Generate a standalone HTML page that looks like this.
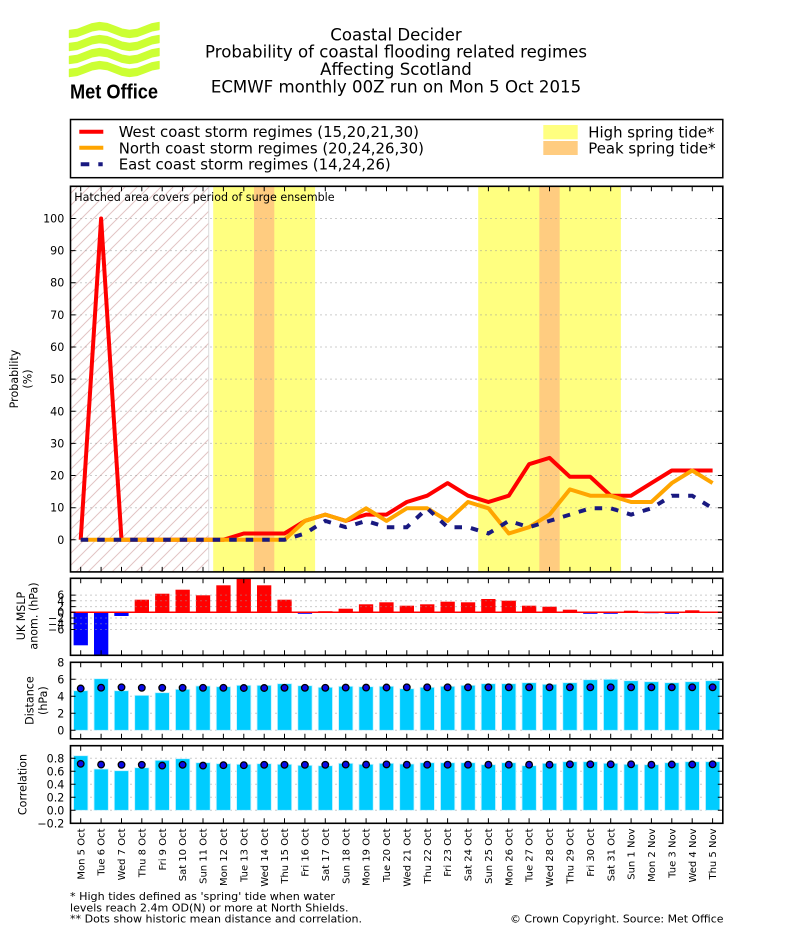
<!DOCTYPE html>
<html><head><meta charset="utf-8"><style>html,body{margin:0;padding:0;background:#fff;}svg{display:block}</style></head>
<body>
<svg width="786" height="937" viewBox="0 0 786 937" xmlns="http://www.w3.org/2000/svg" font-family="'DejaVu Sans','Liberation Sans',sans-serif">
<defs>
<pattern id="hatch" patternUnits="userSpaceOnUse" width="12" height="12" x="0" y="0">
<path d="M-1,1L1,-1M0,12L12,0M11,13L13,11" stroke="#e2c4c4" stroke-width="1"/>
</pattern>
<clipPath id="cMain"><rect x="70.5" y="186.3" width="652.3" height="385.6"/></clipPath>
<clipPath id="cMslp"><rect x="70.5" y="578.3" width="652.3" height="77"/></clipPath>
<path id="tkd" d="M80.7,0v5M101.1,0v5M121.5,0v5M141.8,0v5M162.2,0v5M182.6,0v5M203,0v5M223.4,0v5M243.8,0v5M264.2,0v5M284.5,0v5M304.9,0v5M325.3,0v5M345.7,0v5M366.1,0v5M386.5,0v5M406.8,0v5M427.2,0v5M447.6,0v5M468,0v5M488.4,0v5M508.8,0v5M529.1,0v5M549.5,0v5M569.9,0v5M590.3,0v5M610.7,0v5M631.1,0v5M651.4,0v5M671.8,0v5M692.2,0v5M712.6,0v5" stroke="#000" stroke-width="1"/>
<path id="tku" d="M80.7,0v-5M101.1,0v-5M121.5,0v-5M141.8,0v-5M162.2,0v-5M182.6,0v-5M203,0v-5M223.4,0v-5M243.8,0v-5M264.2,0v-5M284.5,0v-5M304.9,0v-5M325.3,0v-5M345.7,0v-5M366.1,0v-5M386.5,0v-5M406.8,0v-5M427.2,0v-5M447.6,0v-5M468,0v-5M488.4,0v-5M508.8,0v-5M529.1,0v-5M549.5,0v-5M569.9,0v-5M590.3,0v-5M610.7,0v-5M631.1,0v-5M651.4,0v-5M671.8,0v-5M692.2,0v-5M712.6,0v-5" stroke="#000" stroke-width="1"/>
<polygon id="wave" points="69.5,0.49 77,-0.53 84.5,-3.29 92,-6.18 99.5,-7.49 107,-6.47 114.5,-3.71 122,-0.82 129.5,0.49 137,-0.53 144.5,-3.29 152,-6.18 159,-7.48 159,-0.48 152,0.82 144.5,3.71 137,6.47 129.5,7.49 122,6.18 114.5,3.29 107,0.53 99.5,-0.49 92,0.82 84.5,3.71 77,6.47 69.5,7.49" fill="#ccff33" stroke="#ccff33" stroke-width="1.4" stroke-linejoin="round"/>
</defs>
<rect width="786" height="937" fill="#fff"/>

<!-- Logo -->
<use href="#wave" transform="translate(0,30)"/>
<use href="#wave" transform="translate(0,43)"/>
<use href="#wave" transform="translate(0,56)"/>
<use href="#wave" transform="translate(0,69)"/>
<text x="70" y="98.5" font-family="'Liberation Sans',sans-serif" font-weight="bold" font-size="20" textLength="88" lengthAdjust="spacingAndGlyphs" fill="#000">Met Office</text>

<!-- Title -->
<g font-size="16.6" text-anchor="middle" fill="#000">
<text x="396" y="40.3">Coastal Decider</text>
<text x="396" y="57.7">Probability of coastal flooding related regimes</text>
<text x="396" y="75.1">Affecting Scotland</text>
<text x="396" y="92.5">ECMWF monthly 00Z run on Mon 5 Oct 2015</text>
</g>

<!-- Legend -->
<rect x="70.5" y="119.5" width="652.3" height="58.2" fill="#fff" stroke="#000" stroke-width="1.5"/>
<line x1="79.3" y1="131.7" x2="103.3" y2="131.7" stroke="#ff0000" stroke-width="4"/>
<line x1="79.3" y1="147.7" x2="103.3" y2="147.7" stroke="#ffa500" stroke-width="4"/>
<line x1="80.7" y1="164.3" x2="102.7" y2="164.3" stroke="#191980" stroke-width="4" stroke-dasharray="8.6 9"/>
<g font-size="14.9" fill="#000">
<text x="118.7" y="137">West coast storm regimes (15,20,21,30)</text>
<text x="118.7" y="153.3">North coast storm regimes (20,24,26,30)</text>
<text x="118.7" y="169.5">East coast storm regimes (14,24,26)</text>
<text x="588.3" y="137.5">High spring tide*</text>
<text x="588.3" y="153.5">Peak spring tide*</text>
</g>
<rect x="543.3" y="125" width="34.4" height="14.3" fill="#ffff80"/>
<rect x="543.3" y="141" width="34.4" height="14" fill="#ffcc80"/>

<!-- Main panel -->
<rect x="70.5" y="186.3" width="138.2" height="385.6" fill="url(#hatch)"/>
<line x1="208.7" y1="186.3" x2="208.7" y2="571.9" stroke="#dcdcdc" stroke-width="1"/>
<rect x="213.2" y="186.3" width="101.9" height="385.6" fill="#ffff80"/>
<rect x="254" y="186.3" width="20.3" height="385.6" fill="#ffcc80"/>
<rect x="478.2" y="186.3" width="142.7" height="385.6" fill="#ffff80"/>
<rect x="539.3" y="186.3" width="20.4" height="385.6" fill="#ffcc80"/>
<path d="M70.5,539.8H722.8M70.5,507.7H722.8M70.5,475.5H722.8M70.5,443.4H722.8M70.5,411.3H722.8M70.5,379.1H722.8M70.5,347H722.8M70.5,314.9H722.8M70.5,282.7H722.8M70.5,250.6H722.8M70.5,218.5H722.8" stroke="#999" stroke-width="1" stroke-dasharray="1 4"/>
<text x="74.3" y="201" font-size="11.1" fill="#000">Hatched area covers period of surge ensemble</text>
<g clip-path="url(#cMain)" fill="none" stroke-linejoin="round">
<polyline stroke="#ff0000" stroke-width="4" points="80.7,539.8 101.1,218.5 121.5,539.8 141.8,539.8 162.2,539.8 182.6,539.8 203,539.8 223.4,539.8 243.8,533.5 264.2,533.5 284.5,533.5 304.9,520.9 325.3,514.6 345.7,520.9 366.1,514.6 386.5,514.6 406.8,502 427.2,495.7 447.6,483.1 468,495.7 488.4,502 508.8,495.7 529.1,464.2 549.5,457.9 569.9,476.8 590.3,476.8 610.7,495.7 631.1,495.7 651.4,483.1 671.8,470.5 692.2,470.5 712.6,470.5"/>
<polyline stroke="#ffa500" stroke-width="4" points="80.7,539.8 101.1,539.8 121.5,539.8 141.8,539.8 162.2,539.8 182.6,539.8 203,539.8 223.4,539.8 243.8,539.8 264.2,539.8 284.5,539.8 304.9,520.9 325.3,514.6 345.7,520.9 366.1,508.3 386.5,520.9 406.8,508.3 427.2,508.3 447.6,520.9 468,502 488.4,508.3 508.8,533.5 529.1,527.2 549.5,514.6 569.9,489.4 590.3,495.7 610.7,495.7 631.1,502 651.4,502 671.8,483.1 692.2,470.5 712.6,483.1"/>
<polyline stroke="#191980" stroke-width="4" stroke-dasharray="7.5 9" stroke-linejoin="miter" points="80.7,539.8 101.1,539.8 121.5,539.8 141.8,539.8 162.2,539.8 182.6,539.8 203,539.8 223.4,539.8 243.8,539.8 264.2,539.8 284.5,539.8 304.9,533.5 325.3,520.9 345.7,527.2 366.1,520.9 386.5,527.2 406.8,527.2 427.2,508.3 447.6,527.2 468,527.2 488.4,533.5 508.8,520.9 529.1,527.2 549.5,520.9 569.9,514.6 590.3,508.3 610.7,508.3 631.1,514.6 651.4,508.3 671.8,495.7 692.2,495.7 712.6,508.3"/>
</g>
<use href="#tkd" y="186.3"/>
<use href="#tku" y="571.9"/>
<path d="M70.5,539.8h5M70.5,507.7h5M70.5,475.5h5M70.5,443.4h5M70.5,411.3h5M70.5,379.1h5M70.5,347h5M70.5,314.9h5M70.5,282.7h5M70.5,250.6h5M70.5,218.5h5M722.8,539.8h-5M722.8,507.7h-5M722.8,475.5h-5M722.8,443.4h-5M722.8,411.3h-5M722.8,379.1h-5M722.8,347h-5M722.8,314.9h-5M722.8,282.7h-5M722.8,250.6h-5M722.8,218.5h-5" stroke="#000" stroke-width="1"/>
<rect x="70.5" y="186.3" width="652.3" height="385.6" fill="none" stroke="#000" stroke-width="1.6"/>
<g font-size="11.1" text-anchor="end" fill="#000">
<text x="64.3" y="543.8">0</text><text x="64.3" y="511.7">10</text><text x="64.3" y="479.5">20</text><text x="64.3" y="447.4">30</text><text x="64.3" y="415.3">40</text><text x="64.3" y="383.1">50</text><text x="64.3" y="351">60</text><text x="64.3" y="318.9">70</text><text x="64.3" y="286.7">80</text><text x="64.3" y="254.6">90</text><text x="64.3" y="222.5">100</text>
</g>
<g font-size="11.1" text-anchor="middle" fill="#000">
<text transform="translate(17.8,379) rotate(-90)">Probability</text>
<text transform="translate(31.5,379) rotate(-90)">(%)</text>
<text transform="translate(25,616) rotate(-90)">UK MSLP</text>
<text transform="translate(37.5,616) rotate(-90)">anom. (hPa)</text>
<text transform="translate(33.5,700.6) rotate(-90)">Distance</text>
<text transform="translate(47,700.6) rotate(-90)">(hPa)</text>
<text transform="translate(26.5,784.5) rotate(-90)">Correlation</text>
</g>

<!-- MSLP panel -->
<g clip-path="url(#cMslp)">
<g fill="#0000ff">
<rect x="73.6" y="612.3" width="14.3" height="33"/>
<rect x="94" y="612.3" width="14.3" height="43"/>
<rect x="114.3" y="612.3" width="14.3" height="3.7"/>
<rect x="297.8" y="612.3" width="14.3" height="1.5"/>
<rect x="583.2" y="612.3" width="14.3" height="1.5"/>
<rect x="603.5" y="612.3" width="14.3" height="1.5"/>
<rect x="644.3" y="612.3" width="14.3" height="0.9"/>
<rect x="664.7" y="612.3" width="14.3" height="1.5"/>
<rect x="705.5" y="612.3" width="14.3" height="0.6"/>
</g>
<g fill="#ff0000">
<rect x="134.7" y="599.7" width="14.3" height="12.6"/>
<rect x="155.1" y="593.7" width="14.3" height="18.6"/>
<rect x="175.5" y="589.7" width="14.3" height="22.6"/>
<rect x="195.9" y="595.3" width="14.3" height="17"/>
<rect x="216.3" y="585.3" width="14.3" height="27"/>
<rect x="236.6" y="578.3" width="14.3" height="34"/>
<rect x="257" y="585.3" width="14.3" height="27"/>
<rect x="277.4" y="599.7" width="14.3" height="12.6"/>
<rect x="318.2" y="611.2" width="14.3" height="1.1"/>
<rect x="338.6" y="608.7" width="14.3" height="3.6"/>
<rect x="358.9" y="604.3" width="14.3" height="8"/>
<rect x="379.3" y="602.3" width="14.3" height="10"/>
<rect x="399.7" y="605.7" width="14.3" height="6.6"/>
<rect x="420.1" y="604.3" width="14.3" height="8"/>
<rect x="440.5" y="601.7" width="14.3" height="10.6"/>
<rect x="460.9" y="602.3" width="14.3" height="10"/>
<rect x="481.2" y="599" width="14.3" height="13.3"/>
<rect x="501.6" y="600.7" width="14.3" height="11.6"/>
<rect x="522" y="605.7" width="14.3" height="6.6"/>
<rect x="542.4" y="606.7" width="14.3" height="5.6"/>
<rect x="562.8" y="609.7" width="14.3" height="2.6"/>
<rect x="623.9" y="610.7" width="14.3" height="1.6"/>
<rect x="685.1" y="610.3" width="14.3" height="2"/>
</g>
</g>
<path d="M70.5,595.1H722.8M70.5,600.8H722.8M70.5,606.6H722.8M70.5,618H722.8M70.5,623.8H722.8M70.5,629.5H722.8" stroke="#999" stroke-width="1" stroke-dasharray="1 4"/>
<line x1="70.5" y1="612.3" x2="722.8" y2="612.3" stroke="#ff0000" stroke-width="1.5"/>
<use href="#tkd" y="578.3"/>
<use href="#tku" y="655.3"/>
<path d="M70.5,595.1h5M70.5,600.8h5M70.5,606.6h5M70.5,612.3h5M70.5,618h5M70.5,623.8h5M70.5,629.5h5M722.8,595.1h-5M722.8,600.8h-5M722.8,606.6h-5M722.8,612.3h-5M722.8,618h-5M722.8,623.8h-5M722.8,629.5h-5" stroke="#000" stroke-width="1"/>
<rect x="70.5" y="578.3" width="652.3" height="77" fill="none" stroke="#000" stroke-width="1.6"/>
<g font-size="11.1" text-anchor="end" fill="#000">
<text x="64.3" y="599.1">6</text><text x="64.3" y="604.8">4</text><text x="64.3" y="610.6">2</text><text x="64.3" y="616.3">0</text><text x="64.3" y="622">−2</text><text x="64.3" y="627.8">−4</text><text x="64.3" y="633.5">−6</text>
</g>

<!-- Distance panel -->
<path d="M70.5,730.3H722.8M70.5,713.3H722.8M70.5,696.3H722.8M70.5,679.3H722.8" stroke="#999" stroke-width="1" stroke-dasharray="1 4"/>
<g fill="#00ccff" stroke="#c8f2ff" stroke-width="0.8">
<rect x="73.6" y="690.7" width="14.3" height="39.6"/>
<rect x="94" y="678.7" width="14.3" height="51.6"/>
<rect x="114.3" y="690.7" width="14.3" height="39.6"/>
<rect x="134.7" y="695.3" width="14.3" height="35"/>
<rect x="155.1" y="692.7" width="14.3" height="37.6"/>
<rect x="175.5" y="689.3" width="14.3" height="41"/>
<rect x="195.9" y="686" width="14.3" height="44.3"/>
<rect x="216.3" y="686.7" width="14.3" height="43.6"/>
<rect x="236.6" y="685.3" width="14.3" height="45"/>
<rect x="257" y="685.3" width="14.3" height="45"/>
<rect x="277.4" y="683.7" width="14.3" height="46.6"/>
<rect x="297.8" y="685.7" width="14.3" height="44.6"/>
<rect x="318.2" y="687.3" width="14.3" height="43"/>
<rect x="338.6" y="686.3" width="14.3" height="44"/>
<rect x="358.9" y="686.7" width="14.3" height="43.6"/>
<rect x="379.3" y="686.3" width="14.3" height="44"/>
<rect x="399.7" y="688.7" width="14.3" height="41.6"/>
<rect x="420.1" y="687.3" width="14.3" height="43"/>
<rect x="440.5" y="686.3" width="14.3" height="44"/>
<rect x="460.9" y="685.3" width="14.3" height="45"/>
<rect x="481.2" y="683.7" width="14.3" height="46.6"/>
<rect x="501.6" y="683.7" width="14.3" height="46.6"/>
<rect x="522" y="682.7" width="14.3" height="47.6"/>
<rect x="542.4" y="684.3" width="14.3" height="46"/>
<rect x="562.8" y="682.7" width="14.3" height="47.6"/>
<rect x="583.2" y="679.7" width="14.3" height="50.6"/>
<rect x="603.5" y="679.3" width="14.3" height="51"/>
<rect x="623.9" y="680.7" width="14.3" height="49.6"/>
<rect x="644.3" y="681.7" width="14.3" height="48.6"/>
<rect x="664.7" y="682.7" width="14.3" height="47.6"/>
<rect x="685.1" y="681.7" width="14.3" height="48.6"/>
<rect x="705.5" y="680.7" width="14.3" height="49.6"/>
</g>
<g fill="#0a0ae6" stroke="#000" stroke-width="1.3">
<circle cx="80.7" cy="688.5" r="3.3"/><circle cx="101.1" cy="687.7" r="3.3"/><circle cx="121.5" cy="687.3" r="3.3"/><circle cx="141.8" cy="687.8" r="3.3"/><circle cx="162.2" cy="687.8" r="3.3"/><circle cx="182.6" cy="687.8" r="3.3"/><circle cx="203" cy="687.8" r="3.3"/><circle cx="223.4" cy="687.8" r="3.3"/><circle cx="243.8" cy="688" r="3.3"/><circle cx="264.2" cy="688" r="3.3"/><circle cx="284.5" cy="687.8" r="3.3"/><circle cx="304.9" cy="687.8" r="3.3"/><circle cx="325.3" cy="687.8" r="3.3"/><circle cx="345.7" cy="687.6" r="3.3"/><circle cx="366.1" cy="687.6" r="3.3"/><circle cx="386.5" cy="687.5" r="3.3"/><circle cx="406.8" cy="687.3" r="3.3"/><circle cx="427.2" cy="687.3" r="3.3"/><circle cx="447.6" cy="687.3" r="3.3"/><circle cx="468" cy="687.3" r="3.3"/><circle cx="488.4" cy="687.3" r="3.3"/><circle cx="508.8" cy="687.3" r="3.3"/><circle cx="529.1" cy="687.3" r="3.3"/><circle cx="549.5" cy="687.3" r="3.3"/><circle cx="569.9" cy="687.3" r="3.3"/><circle cx="590.3" cy="687.3" r="3.3"/><circle cx="610.7" cy="687.3" r="3.3"/><circle cx="631.1" cy="687.3" r="3.3"/><circle cx="651.4" cy="687.3" r="3.3"/><circle cx="671.8" cy="687.3" r="3.3"/><circle cx="692.2" cy="687.3" r="3.3"/><circle cx="712.6" cy="687.3" r="3.3"/>
</g>
<use href="#tkd" y="662.3"/>
<use href="#tku" y="738.8"/>
<path d="M70.5,730.3h5M70.5,713.3h5M70.5,696.3h5M70.5,679.3h5M722.8,730.3h-5M722.8,713.3h-5M722.8,696.3h-5M722.8,679.3h-5" stroke="#000" stroke-width="1"/>
<rect x="70.5" y="662.3" width="652.3" height="76.5" fill="none" stroke="#000" stroke-width="1.6"/>
<g font-size="11.1" text-anchor="end" fill="#000">
<text x="64.3" y="734.3">0</text><text x="64.3" y="717.3">2</text><text x="64.3" y="700.3">4</text><text x="64.3" y="683.3">6</text><text x="64.3" y="666.3">8</text>
</g>

<!-- Correlation panel -->
<path d="M70.5,810.3H722.8M70.5,797.3H722.8M70.5,784.3H722.8M70.5,771.3H722.8M70.5,758.3H722.8" stroke="#999" stroke-width="1" stroke-dasharray="1 4"/>
<g fill="#00ccff" stroke="#c8f2ff" stroke-width="0.8">
<rect x="73.6" y="755.7" width="14.3" height="54.6"/>
<rect x="94" y="769" width="14.3" height="41.3"/>
<rect x="114.3" y="770.7" width="14.3" height="39.6"/>
<rect x="134.7" y="767.7" width="14.3" height="42.6"/>
<rect x="155.1" y="760.3" width="14.3" height="50"/>
<rect x="175.5" y="758.7" width="14.3" height="51.6"/>
<rect x="195.9" y="762.7" width="14.3" height="47.6"/>
<rect x="216.3" y="763.7" width="14.3" height="46.6"/>
<rect x="236.6" y="764.3" width="14.3" height="46"/>
<rect x="257" y="763.7" width="14.3" height="46.6"/>
<rect x="277.4" y="764.3" width="14.3" height="46"/>
<rect x="297.8" y="765.3" width="14.3" height="45"/>
<rect x="318.2" y="765.7" width="14.3" height="44.6"/>
<rect x="338.6" y="763.3" width="14.3" height="47"/>
<rect x="358.9" y="764.3" width="14.3" height="46"/>
<rect x="379.3" y="763.3" width="14.3" height="47"/>
<rect x="399.7" y="764" width="14.3" height="46.3"/>
<rect x="420.1" y="762.7" width="14.3" height="47.6"/>
<rect x="440.5" y="762.7" width="14.3" height="47.6"/>
<rect x="460.9" y="762.7" width="14.3" height="47.6"/>
<rect x="481.2" y="764.7" width="14.3" height="45.6"/>
<rect x="501.6" y="762.7" width="14.3" height="47.6"/>
<rect x="522" y="765.7" width="14.3" height="44.6"/>
<rect x="542.4" y="763.3" width="14.3" height="47"/>
<rect x="562.8" y="761.7" width="14.3" height="48.6"/>
<rect x="583.2" y="761.7" width="14.3" height="48.6"/>
<rect x="603.5" y="763.3" width="14.3" height="47"/>
<rect x="623.9" y="764.3" width="14.3" height="46"/>
<rect x="644.3" y="764.7" width="14.3" height="45.6"/>
<rect x="664.7" y="762.7" width="14.3" height="47.6"/>
<rect x="685.1" y="761.7" width="14.3" height="48.6"/>
<rect x="705.5" y="761.7" width="14.3" height="48.6"/>
</g>
<g fill="#0a0ae6" stroke="#000" stroke-width="1.3">
<circle cx="80.7" cy="763.8" r="3.3"/><circle cx="101.1" cy="764.6" r="3.3"/><circle cx="121.5" cy="764.8" r="3.3"/><circle cx="141.8" cy="764.8" r="3.3"/><circle cx="162.2" cy="765.6" r="3.3"/><circle cx="182.6" cy="764.8" r="3.3"/><circle cx="203" cy="765.6" r="3.3"/><circle cx="223.4" cy="765.2" r="3.3"/><circle cx="243.8" cy="765.2" r="3.3"/><circle cx="264.2" cy="764.8" r="3.3"/><circle cx="284.5" cy="764.8" r="3.3"/><circle cx="304.9" cy="764.8" r="3.3"/><circle cx="325.3" cy="764.8" r="3.3"/><circle cx="345.7" cy="764.6" r="3.3"/><circle cx="366.1" cy="764.6" r="3.3"/><circle cx="386.5" cy="764.4" r="3.3"/><circle cx="406.8" cy="764.7" r="3.3"/><circle cx="427.2" cy="764.7" r="3.3"/><circle cx="447.6" cy="764.7" r="3.3"/><circle cx="468" cy="764.7" r="3.3"/><circle cx="488.4" cy="764.7" r="3.3"/><circle cx="508.8" cy="764.7" r="3.3"/><circle cx="529.1" cy="764.7" r="3.3"/><circle cx="549.5" cy="764.7" r="3.3"/><circle cx="569.9" cy="764.3" r="3.3"/><circle cx="590.3" cy="764.3" r="3.3"/><circle cx="610.7" cy="764.3" r="3.3"/><circle cx="631.1" cy="764.3" r="3.3"/><circle cx="651.4" cy="764.7" r="3.3"/><circle cx="671.8" cy="764.5" r="3.3"/><circle cx="692.2" cy="764.5" r="3.3"/><circle cx="712.6" cy="764.3" r="3.3"/>
</g>
<use href="#tkd" y="745.7"/>
<use href="#tku" y="823.3"/>
<path d="M70.5,810.3h5M70.5,797.3h5M70.5,784.3h5M70.5,771.3h5M70.5,758.3h5M722.8,810.3h-5M722.8,797.3h-5M722.8,784.3h-5M722.8,771.3h-5M722.8,758.3h-5" stroke="#000" stroke-width="1"/>
<rect x="70.5" y="745.7" width="652.3" height="77.6" fill="none" stroke="#000" stroke-width="1.6"/>
<g font-size="11.1" text-anchor="end" fill="#000">
<text x="64.3" y="762.3">0.8</text><text x="64.3" y="775.3">0.6</text><text x="64.3" y="788.3">0.4</text><text x="64.3" y="801.3">0.2</text><text x="64.3" y="814.3">0.0</text><text x="64.3" y="827.3">−0.2</text>
</g>

<!-- X labels -->
<g font-size="10" text-anchor="end" fill="#000">
<text transform="translate(84.3,828.5) rotate(-90)">Mon 5 Oct</text>
<text transform="translate(104.7,828.5) rotate(-90)">Tue 6 Oct</text>
<text transform="translate(125.1,828.5) rotate(-90)">Wed 7 Oct</text>
<text transform="translate(145.4,828.5) rotate(-90)">Thu 8 Oct</text>
<text transform="translate(165.8,828.5) rotate(-90)">Fri 9 Oct</text>
<text transform="translate(186.2,828.5) rotate(-90)">Sat 10 Oct</text>
<text transform="translate(206.6,828.5) rotate(-90)">Sun 11 Oct</text>
<text transform="translate(227,828.5) rotate(-90)">Mon 12 Oct</text>
<text transform="translate(247.4,828.5) rotate(-90)">Tue 13 Oct</text>
<text transform="translate(267.8,828.5) rotate(-90)">Wed 14 Oct</text>
<text transform="translate(288.1,828.5) rotate(-90)">Thu 15 Oct</text>
<text transform="translate(308.5,828.5) rotate(-90)">Fri 16 Oct</text>
<text transform="translate(328.9,828.5) rotate(-90)">Sat 17 Oct</text>
<text transform="translate(349.3,828.5) rotate(-90)">Sun 18 Oct</text>
<text transform="translate(369.7,828.5) rotate(-90)">Mon 19 Oct</text>
<text transform="translate(390.1,828.5) rotate(-90)">Tue 20 Oct</text>
<text transform="translate(410.4,828.5) rotate(-90)">Wed 21 Oct</text>
<text transform="translate(430.8,828.5) rotate(-90)">Thu 22 Oct</text>
<text transform="translate(451.2,828.5) rotate(-90)">Fri 23 Oct</text>
<text transform="translate(471.6,828.5) rotate(-90)">Sat 24 Oct</text>
<text transform="translate(492,828.5) rotate(-90)">Sun 25 Oct</text>
<text transform="translate(512.4,828.5) rotate(-90)">Mon 26 Oct</text>
<text transform="translate(532.7,828.5) rotate(-90)">Tue 27 Oct</text>
<text transform="translate(553.1,828.5) rotate(-90)">Wed 28 Oct</text>
<text transform="translate(573.5,828.5) rotate(-90)">Thu 29 Oct</text>
<text transform="translate(593.9,828.5) rotate(-90)">Fri 30 Oct</text>
<text transform="translate(614.3,828.5) rotate(-90)">Sat 31 Oct</text>
<text transform="translate(634.7,828.5) rotate(-90)">Sun 1 Nov</text>
<text transform="translate(655,828.5) rotate(-90)">Mon 2 Nov</text>
<text transform="translate(675.4,828.5) rotate(-90)">Tue 3 Nov</text>
<text transform="translate(695.8,828.5) rotate(-90)">Wed 4 Nov</text>
<text transform="translate(716.2,828.5) rotate(-90)">Thu 5 Nov</text>
</g>

<!-- Footer -->
<g font-size="10.5" fill="#000">
<text x="70" y="900.2" textLength="265" lengthAdjust="spacingAndGlyphs">* High tides defined as 'spring' tide when water</text>
<text x="70" y="911.7" textLength="278.5" lengthAdjust="spacingAndGlyphs">levels reach 2.4m OD(N) or more at North Shields.</text>
<text x="70" y="922.6" textLength="292" lengthAdjust="spacingAndGlyphs">** Dots show historic mean distance and correlation.</text>
<text x="510" y="922.6" textLength="213.5" lengthAdjust="spacingAndGlyphs">© Crown Copyright. Source: Met Office</text>
</g>
</svg>
</body></html>
